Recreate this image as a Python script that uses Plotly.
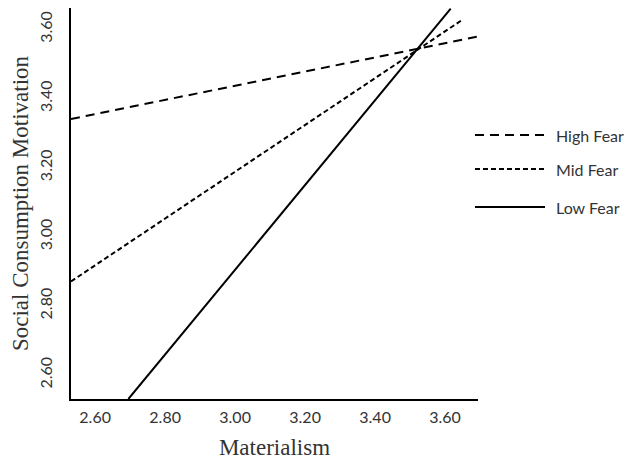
import plotly.graph_objects as go

# Data (endpoints of simple-slope lines)
series_names = ["High Fear", "Mid Fear", "Low Fear"]
high_x = [2.531, 3.697]
high_y = [3.341, 3.580]
mid_x = [2.531, 3.645]
mid_y = [2.871, 3.625]
low_x = [2.695, 3.616]
low_y = [2.531, 3.660]
tick_vals = [2.60, 2.80, 3.00, 3.20, 3.40, 3.60]
tick_text = ["2.60", "2.80", "3.00", "3.20", "3.40", "3.60"]

dashes = ["9px,6px", "5px,3px", "solid"]
xs = [high_x, mid_x, low_x]
ys = [high_y, mid_y, low_y]

SANS = "Lato, Open Sans, sans-serif"
SERIF = "Liberation Serif, Times New Roman, serif"

# the page body adds an 8px offset; the figure is sized to fit the window
OFF = 8
FW, FH = 633 - OFF, 460 - OFF
L, R = 71 - OFF, 478 - OFF
T, B = 8 - OFF, 399 - OFF
W = R - L
H = B - T

def px_x(p):
    return (p - OFF - L) / W
def px_y(p):
    return (B - (p - OFF)) / H

fig = go.Figure()
for name, x, y, d in zip(series_names, xs, ys, dashes):
    fig.add_trace(go.Scatter(x=x, y=y, mode="lines", name=name,
                             line=dict(color="black", width=2, dash=d),
                             showlegend=False))

# custom legend (line samples + labels) in paper coordinates
legend_y = [135, 169, 207]
for name, d, yy in zip(series_names, dashes, legend_y):
    fig.add_shape(type="line", xref="paper", yref="paper",
                  x0=px_x(475), x1=px_x(545), y0=px_y(yy), y1=px_y(yy),
                  line=dict(color="black", width=2, dash=d))
    fig.add_annotation(xref="paper", yref="paper", x=px_x(554), y=px_y(yy),
                       text=name, showarrow=False, xanchor="left", yanchor="middle",
                       font=dict(family=SANS, size=16, color="#333"))

fig.update_layout(
    width=FW, height=FH,
    margin=dict(l=L, r=FW - R, t=T, b=FH - B, pad=0),
    plot_bgcolor="white", paper_bgcolor="white",
    showlegend=False,
)
fig.update_xaxes(range=[2.531, 3.694], tickvals=tick_vals, ticktext=tick_text, automargin=False,
                 showgrid=False, zeroline=False, showline=True, linecolor="black", linewidth=2,
                 ticks="", ticklabelstandoff=3, tickfont=dict(family=SANS, size=16, color="#333"),
                 title=dict(text="Materialism", font=dict(family=SERIF, size=23, color="#333"), standoff=15))
fig.update_yaxes(range=[2.531, 3.662], tickvals=tick_vals, ticktext=tick_text, tickangle=-90, automargin=False,
                 showgrid=False, zeroline=False, showline=True, linecolor="black", linewidth=2,
                 ticks="", ticklabelstandoff=11, tickfont=dict(family=SANS, size=16, color="#333"),
                 title=dict(text="Social Consumption Motivation", font=dict(family=SERIF, size=23, color="#333"), standoff=6))

fig.write_html("out.html")
